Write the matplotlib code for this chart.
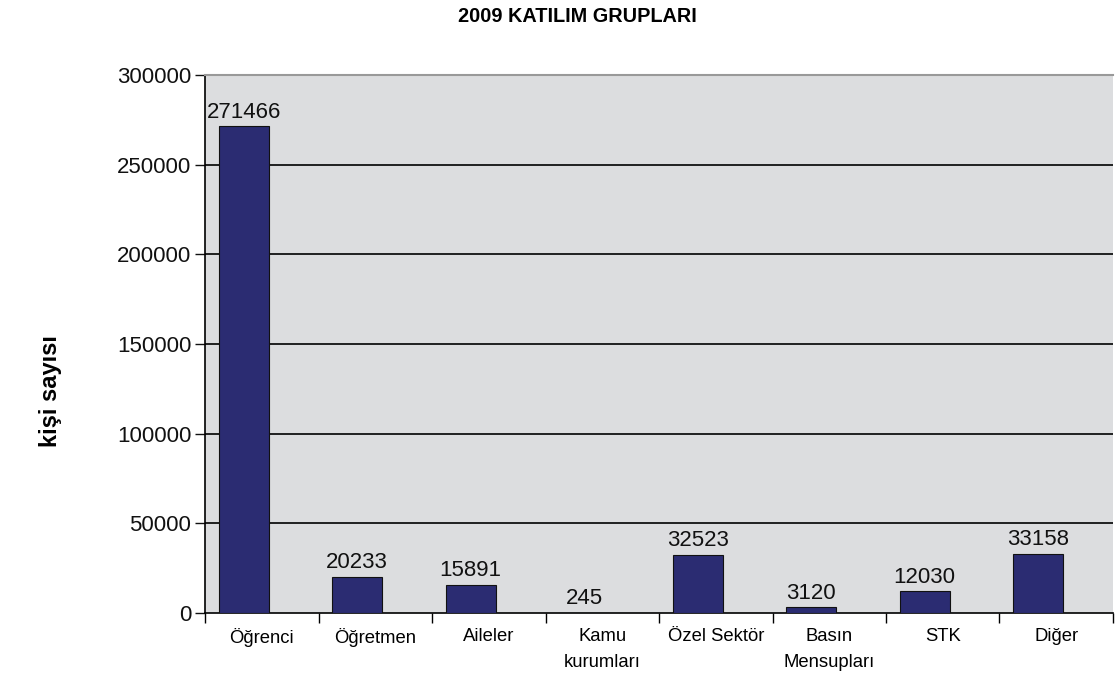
import numpy as np
import matplotlib.pyplot as plt
from matplotlib.ticker import FixedLocator, NullFormatter

plt.rcParams['font.family'] = ['Liberation Sans', 'DejaVu Sans']

# katılım grupları ve kişi sayıları
gruplar = ['Öğrenci', 'Öğretmen', 'Aileler', 'Kamu\nkurumları', 'Özel Sektör',
           'Basın\nMensupları', 'STK', 'Diğer']
kisi_sayisi = [271466, 20233, 15891, 245, 32523, 3120, 12030, 33158]
y_ticks = [0, 50000, 100000, 150000, 200000, 250000, 300000]

fig = plt.figure(figsize=(11.15, 6.76), dpi=100)
ax = fig.add_axes([0.1839, 0.0932, 0.8143, 0.7958])
ax.set_facecolor('#dcdddf')

x = np.arange(len(gruplar))
bars = ax.bar(x - 0.16, kisi_sayisi, width=0.44, color='#2b2c72',
              edgecolor='#111111', linewidth=0.8, zorder=3)

for b, v in zip(bars, kisi_sayisi):
    ax.text(b.get_x() + b.get_width() / 2, v + 2000, str(v),
            ha='center', va='bottom', fontsize=16, color='#111111')

ax.set_xlim(-0.5, len(gruplar) - 0.5)
ax.set_ylim(0, 300000)
ax.set_yticks(y_ticks)
ax.set_yticklabels([str(t) for t in y_ticks], fontsize=16)
ax.tick_params(axis='y', length=7, width=1, pad=3, colors='#111111')

# kategori sınırlarında tik, ortada etiket
ax.xaxis.set_major_locator(FixedLocator(np.arange(len(gruplar) + 1) - 0.5))
ax.xaxis.set_major_formatter(NullFormatter())
ax.xaxis.set_minor_locator(FixedLocator(x))
ax.set_xticklabels(gruplar, minor=True, fontsize=13.3, linespacing=1.7, va='top')
ax.tick_params(axis='x', which='major', length=7, width=1)
ax.tick_params(axis='x', which='minor', length=0, pad=11)

for t in y_ticks[1:-1]:
    ax.axhline(t, color='black', linewidth=1.2, zorder=1)

ax.spines['top'].set_color('#999999')
ax.spines['top'].set_linewidth(1.5)
ax.spines['right'].set_visible(False)
ax.spines['left'].set_linewidth(1.2)
ax.spines['bottom'].set_linewidth(1.2)

fig.text(0.5175, 0.975, '2009 KATILIM GRUPLARI', ha='center', va='center',
         fontsize=14.3, fontweight='bold')
fig.text(0.045, 0.4216, 'kişi sayısı', rotation=90, ha='center', va='center',
         fontsize=17, fontweight='bold')

fig.savefig('out.png', dpi=100)
